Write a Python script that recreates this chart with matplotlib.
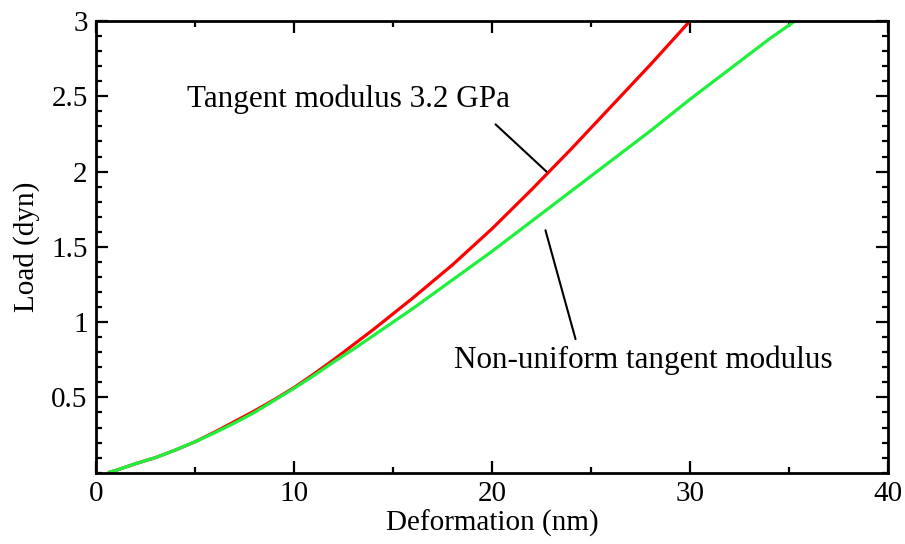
import matplotlib
matplotlib.use('Agg')
import matplotlib.pyplot as plt
from matplotlib.ticker import MultipleLocator

plt.rcParams['font.family'] = ['Liberation Serif', 'DejaVu Serif']

# Curves (deformation nm, load dyn)
x_red = [0.6, 1, 2, 3, 4, 5, 6, 7, 8, 9, 10, 11, 12, 13, 14, 15, 16, 17,
         18, 19, 20, 21, 22, 23, 24, 25, 26, 27, 28, 29, 30]
y_red = [0.0, 0.015, 0.06, 0.10, 0.15, 0.205, 0.27, 0.34, 0.41, 0.485,
         0.565, 0.655, 0.75, 0.85, 0.95, 1.055, 1.16, 1.27, 1.38, 1.50,
         1.62, 1.75, 1.88, 2.015, 2.15, 2.29, 2.43, 2.57, 2.71, 2.855, 3.0]

x_green = [0.6, 1, 2, 3, 4, 5, 6, 7, 8, 9, 10, 11, 12, 13, 14, 15, 16, 17,
           18, 19, 20, 21, 22, 23, 24, 25, 26, 27, 28, 29, 30, 31, 32, 33,
           34, 35.3]
y_green = [0.0, 0.015, 0.06, 0.10, 0.15, 0.205, 0.265, 0.33, 0.40, 0.48,
           0.56, 0.645, 0.735, 0.82, 0.91, 1.0, 1.09, 1.185, 1.28, 1.375,
           1.47, 1.57, 1.67, 1.77, 1.87, 1.97, 2.07, 2.17, 2.27, 2.375,
           2.48, 2.58, 2.68, 2.78, 2.88, 3.0]

x_ticks = [0, 10, 20, 30, 40]
x_labels = ['0', '10', '20', '30', '40']
y_ticks = [0.5, 1, 1.5, 2, 2.5, 3]
y_labels = ['0.5', '1', '1.5', '2', '2.5', '3']

fig = plt.figure(figsize=(9.05, 5.44), dpi=100)
ax = fig.add_axes([0.1061, 0.1311, 0.8751, 0.8303])

ax.plot(x_red, y_red, color='#ff0000', lw=2.3, solid_capstyle='butt')
ax.plot(x_green, y_green, color='#1ef03c', lw=2.3, solid_capstyle='butt')

ax.set_xlim(0, 40)
ax.set_ylim(0, 3)
ax.set_xticks(x_ticks)
ax.set_xticklabels(x_labels)
ax.set_yticks(y_ticks)
ax.set_yticklabels(y_labels)
ax.xaxis.set_minor_locator(MultipleLocator(5))
ax.yaxis.set_minor_locator(MultipleLocator(0.1))

ax.tick_params(which='both', direction='in', top=True, right=True,
               width=1.6, labelsize=21, pad=6)
ax.tick_params(which='major', length=8.5)
ax.tick_params(which='minor', length=4.5)
for s in ax.spines.values():
    s.set_linewidth(2)

ax.set_xlabel('Deformation (nm)', fontsize=21, labelpad=2)
ax.set_ylabel('Load (dyn)', fontsize=21, labelpad=8)

# annotations with leader lines
ax.annotate('Tangent modulus 3.2 GPa', xy=(22.75, 2.0), xytext=(4.6, 2.48),
            fontsize=22.4, ha='left', va='center',
            arrowprops=dict(arrowstyle='-', color='black', lw=1.5,
                            shrinkA=0, shrinkB=0,
                            relpos=(0.955, -0.35)))
ax.annotate('Non-uniform tangent modulus', xy=(22.7, 1.61), xytext=(18.1, 0.75),
            fontsize=22.4, ha='left', va='center',
            arrowprops=dict(arrowstyle='-', color='black', lw=1.5,
                            shrinkA=0, shrinkB=0,
                            relpos=(0.32, 1.2)))

fig.savefig('out.png', dpi=100)
